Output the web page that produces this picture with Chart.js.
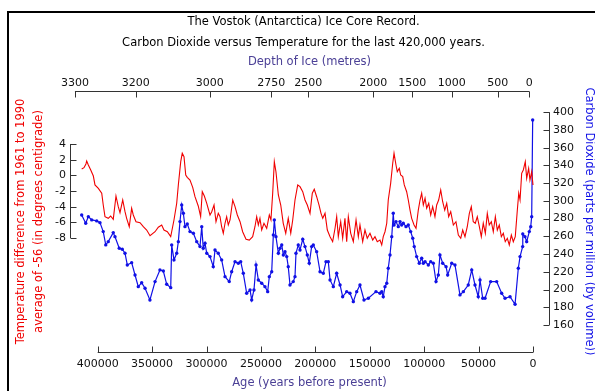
<!DOCTYPE html>
<html>
<head>
<meta charset="utf-8">
<title>Vostok Ice Core</title>
<script src="https://cdn.jsdelivr.net/npm/chart.js@4.4.1/dist/chart.umd.min.js"></script>
<style>
  html, body { margin: 0; padding: 0; background: #fff; }
  #wrap { position: relative; width: 595px; height: 391px; }
  #frame {
    position: absolute; left: 7px; top: 11px; width: 700px; height: 500px;
    border-left: 2px solid #000; border-top: 2px solid #000; pointer-events: none;
  }
</style>
</head>
<body>
<div id="wrap">
  <canvas id="vostokChart"></canvas>
  <div id="frame"></div>
</div>
<script>
// temperature record (years before present, deg C difference)
const tempAge = [414700,412600,410800,410100,408600,406400,404000,402500,399400,396300,
  394900,393300,390300,388100,385700,383200,381100,379500,377000,374900,
  373400,371000,368800,367300,364800,361100,358100,355000,351900,347300,
  344300,341200,339100,336000,332900,329900,327400,325900,323700,322300,
  320700,319100,317700,315200,312700,310600,307600,305400,303900,302000,
  299800,296800,295200,293100,291300,289200,287600,286100,284600,283000,
  281500,280000,278400,275900,273800,271700,269200,266800,263700,260700,
  257600,255500,253900,252400,250900,249300,247200,244700,242300,240800,
  239200,237700,236200,234000,231800,229500,227200,224900,222600,220800,
  218700,216200,214100,211600,209500,207400,204900,202800,201000,198800,
  196600,194800,193200,191100,189000,186500,184100,181900,180400,178900,
  176700,174900,172800,171200,169700,167500,165100,162600,160500,159000,
  156500,154400,152300,149800,147300,145200,143100,140600,139000,137600,
  136000,134400,133000,130800,128900,127700,125900,124700,122900,121600,
  119700,118300,116100,114600,113000,111500,109300,107500,105400,103800,
  102300,100800,99200,97700,95800,94000,92200,90100,88500,86700,
  84800,83000,81100,79300,77500,75600,73200,70800,68600,66400,
  64600,62500,60400,58500,56700,54900,53000,51200,49300,47500,
  45700,43800,42000,40200,38300,36500,34600,32800,31000,29100,
  27300,25500,23600,21800,19900,18100,16300,14400,13100,11900,
  10400,8900,7100,5800,4000,2800,1200,0];
const tempVal = [0.81,0.97,1.45,1.83,1.32,0.68,-0.09,-1.23,-1.66,-2.29,
  -3.79,-5.28,-5.49,-5.19,-5.61,-2.64,-4.0,-4.77,-3.15,-4.64,
  -5.49,-6.56,-4.21,-5.06,-5.92,-6.05,-6.56,-6.98,-7.71,-7.2,
  -6.63,-6.34,-6.98,-7.2,-7.83,-5.7,-3.57,-1.23,1.74,2.81,
  2.38,0.04,-0.25,-0.6,-1.53,-2.73,-3.91,-5.28,-2.09,-2.64,
  -3.57,-5.06,-4.64,-3.79,-5.92,-4.85,-5.28,-6.56,-7.4,-6.12,
  -5.28,-6.34,-5.7,-3.15,-4.0,-5.06,-5.92,-7.2,-8.17,-8.26,
  -7.83,-6.56,-5.28,-6.34,-5.49,-6.98,-6.12,-6.76,-5.06,-5.7,
  -2.29,1.74,0.46,-2.51,-3.79,-6.12,-7.4,-5.49,-7.4,-5.7,
  -3.15,-1.23,-1.45,-2.09,-3.15,-3.79,-4.85,-2.29,-1.78,-2.73,
  -3.79,-4.85,-5.49,-4.85,-6.98,-7.83,-8.47,-6.76,-5.28,-7.83,
  -5.92,-8.04,-5.49,-8.47,-5.28,-7.4,-8.47,-5.7,-7.83,-6.34,
  -8.47,-6.98,-8.04,-7.4,-8.26,-7.83,-8.47,-8.26,-8.89,-7.83,
  -7.2,-6.12,-3.15,-1.02,1.54,2.81,1.32,0.46,0.9,0.04,
  -0.17,-1.23,-2.09,-3.15,-4.43,-5.49,-6.34,-6.76,-4.43,-3.15,
  -2.29,-3.79,-2.93,-4.21,-3.57,-5.06,-4.0,-5.28,-3.79,-3.15,
  -1.87,-3.37,-4.43,-3.57,-5.28,-4.64,-6.34,-5.92,-7.62,-8.04,
  -6.98,-7.83,-6.56,-4.85,-4.0,-5.92,-6.12,-5.28,-6.56,-7.83,
  -6.12,-7.4,-4.85,-6.34,-5.92,-7.2,-5.28,-6.98,-6.34,-7.83,
  -7.4,-8.47,-8.04,-8.89,-7.62,-8.47,-7.83,-4.43,-2.29,-3.15,
  0.26,0.68,1.74,-0.38,0.9,-0.6,0.46,-1.23];

// carbon dioxide record (years before present, ppmv)
const co2Age = [414700,411000,408600,405500,400900,397900,394900,392600,390300,385700,
  384100,380200,377400,374900,372800,368800,365700,362700,359600,356500,
  352000,347300,342800,339700,336600,332900,332000,329900,327400,325900,
  324400,322800,321300,319800,317700,315200,312100,309000,306000,304400,
  303000,301400,299800,296800,293800,292200,289200,286100,283000,279100,
  276900,273800,270800,268600,266200,263100,260000,258500,256400,254500,
  252400,249300,246300,243800,242300,240100,238600,237700,236200,234000,
  232500,230900,229400,227900,226300,224900,223300,220300,218700,217800,
  215700,214100,211600,209500,207400,205600,203400,201900,198800,195700,
  192700,190200,188100,186500,183500,180400,177300,174900,171200,168200,
  165100,162000,159000,155300,151300,144300,140600,139000,137600,136000,
  134400,133000,131400,129800,128400,127700,125900,123800,122200,120700,
  119200,116700,114600,112400,110500,109100,106900,104500,102300,100800,
  99200,96200,94000,91600,89100,87000,85500,83000,79900,78400,
  74700,71700,67100,64000,59500,56300,53300,50300,48700,46200,
  44100,38900,33400,28800,25700,21100,16500,13500,11900,9500,
  9400,7400,5800,3400,2100,1200,300];
const co2Val = [284.1,274.8,282.2,278.5,277.4,275.4,265.3,250.3,254.0,264.2,
  259.6,246.5,245.4,240.9,227.7,230.3,216.4,203.2,207.7,201.4,
  188.2,208.9,222.1,220.9,205.9,202.1,250.3,233.4,240.9,254.0,
  276.6,295.4,286.0,270.9,274.0,265.3,263.5,254.0,248.4,270.9,
  246.5,252.2,240.9,237.1,225.8,244.6,240.9,233.4,214.5,208.9,
  220.1,231.4,229.6,231.4,218.3,195.8,199.5,188.2,199.5,227.7,
  210.8,207.1,203.2,197.6,214.5,220.1,261.6,278.5,259.6,240.9,
  246.5,250.3,239.0,242.7,237.1,225.8,205.1,208.9,214.5,240.9,
  250.3,244.6,256.7,248.4,239.0,229.6,248.4,250.3,242.7,220.1,
  218.3,231.4,231.4,210.8,203.2,218.3,205.1,191.9,197.6,195.8,
  186.3,197.6,205.1,188.2,190.1,197.6,195.8,197.6,191.9,203.2,
  207.1,224.0,239.0,259.6,286.0,272.8,276.6,270.9,276.6,272.8,
  274.8,270.9,272.8,265.3,257.8,248.4,237.1,229.6,235.3,229.6,
  231.4,227.7,231.4,229.6,208.9,216.4,239.0,229.6,225.8,216.4,
  229.6,227.7,193.9,197.6,205.1,222.1,205.1,191.9,210.8,190.1,
  190.1,208.9,208.9,195.8,190.1,191.9,183.4,224.0,237.1,248.4,
  262.7,259.6,254.0,265.3,270.9,282.2,391.3];

// axis ticks
const ageTicks = [400000,350000,300000,250000,200000,150000,100000,50000,0];
const depthLabels = [3300,3200,3000,2750,2500,2000,1500,1000,500,0];
const depthAges = [420900,365100,297100,240500,206500,146800,110900,74700,32400,3400];
const tempTicks = [-8,-6,-4,-2,0,2,4];
const co2Ticks = [160,180,200,220,240,260,280,300,320,340,360,380,400];

const FONT = "'DejaVu Sans', Verdana, sans-serif";
const AXIS_COLOR = "#333";
const TITLE_PURPLE = "#4b4096";
const TICK_LEN = 6;

Chart.defaults.font.family = FONT;
Chart.defaults.font.size = 11;
Chart.defaults.color = "#111";

// draw the short axis lines with inward ticks, only over the labelled ranges
const axisLines = {
  id: "axisLines",
  afterDraw(chart) {
    const { ctx, scales } = chart;
    const x = scales.x, xt = scales.xTop, yt = scales.yT, yc = scales.yC;
    ctx.save();
    ctx.strokeStyle = AXIS_COLOR;
    ctx.lineWidth = 1;
    ctx.beginPath();

    // bottom: age
    const yb = Math.round(x.top) + 0.5;
    ctx.moveTo(x.getPixelForValue(ageTicks[0]), yb);
    ctx.lineTo(x.getPixelForValue(ageTicks[ageTicks.length - 1]), yb);
    ageTicks.forEach(v => {
      const px = Math.round(x.getPixelForValue(v)) + 0.5;
      ctx.moveTo(px, yb); ctx.lineTo(px, yb - TICK_LEN);
    });

    // top: depth
    const ytop = Math.round(xt.bottom) + 0.5;
    ctx.moveTo(xt.getPixelForValue(depthAges[0]), ytop);
    ctx.lineTo(xt.getPixelForValue(depthAges[depthAges.length - 1]), ytop);
    depthAges.forEach(v => {
      const px = Math.round(xt.getPixelForValue(v)) + 0.5;
      ctx.moveTo(px, ytop); ctx.lineTo(px, ytop + TICK_LEN);
    });

    // left: temperature
    const xl = Math.round(yt.right) + 0.5;
    ctx.moveTo(xl, yt.getPixelForValue(tempTicks[0]));
    ctx.lineTo(xl, yt.getPixelForValue(tempTicks[tempTicks.length - 1]));
    tempTicks.forEach(v => {
      const py = Math.round(yt.getPixelForValue(v)) + 0.5;
      ctx.moveTo(xl, py); ctx.lineTo(xl + TICK_LEN, py);
    });

    // right: CO2
    const xr = Math.round(yc.left) + 0.5;
    ctx.moveTo(xr, yc.getPixelForValue(co2Ticks[0]));
    ctx.lineTo(xr, yc.getPixelForValue(co2Ticks[co2Ticks.length - 1]));
    co2Ticks.forEach(v => {
      const py = Math.round(yc.getPixelForValue(v)) + 0.5;
      ctx.moveTo(xr, py); ctx.lineTo(xr - TICK_LEN, py);
    });

    ctx.stroke();
    ctx.restore();
  }
};

function buildChart() {
  const ctx = document.getElementById("vostokChart").getContext("2d");

  const tempData = tempAge.map((a, i) => ({ x: a, y: tempVal[i] }));
  const co2Data = co2Age.map((a, i) => ({ x: a, y: co2Val[i] }));

  const noGrid = { display: false, drawTicks: false };

  window.vostokChart = new Chart(ctx, {
    type: "line",
    data: {
      datasets: [
        {
          label: "Temperature",
          data: tempData,
          yAxisID: "yT",
          borderColor: "#f00000",
          borderWidth: 1.1,
          pointRadius: 0,
          tension: 0,
          fill: false
        },
        {
          label: "Carbon Dioxide",
          data: co2Data,
          yAxisID: "yC",
          borderColor: "#1010e6",
          backgroundColor: "#1010e6",
          borderWidth: 1.2,
          pointRadius: 1.7,
          pointBorderWidth: 0,
          tension: 0,
          fill: false
        }
      ]
    },
    options: {
      responsive: true,
      maintainAspectRatio: false,
      animation: false,
      layout: { padding: { left: 12, right: 0, top: 0, bottom: 0 } },
      plugins: {
        legend: { display: false },
        tooltip: { enabled: false },
        title: {
          display: true,
          text: ["The Vostok (Antarctica) Ice Core Record.",
                 "Carbon Dioxide versus Temperature for the last 420,000 years."],
          color: "#000",
          font: { size: 11.5, weight: "normal", lineHeight: 1.78 },
          padding: { top: 12, bottom: 0 }
        }
      },
      scales: {
        x: {
          type: "linear",
          position: "bottom",
          reverse: true,
          min: -14700,
          max: 425450,
          grid: noGrid,
          border: { display: false },
          afterBuildTicks: s => { s.ticks = ageTicks.map(v => ({ value: v })); },
          afterFit: s => { s.height = 39; },
          ticks: {
            autoSkip: false, maxRotation: 0, padding: 6, color: "#111",
            callback: v => String(v)
          },
          title: {
            display: true, text: "Age (years before present)", color: TITLE_PURPLE,
            font: { size: 11.5 }, padding: { top: 0, bottom: 1 }
          }
        },
        xTop: {
          type: "linear",
          position: "top",
          reverse: true,
          min: -14700,
          max: 425450,
          grid: noGrid,
          border: { display: false },
          afterBuildTicks: s => { s.ticks = depthAges.map(v => ({ value: v })); },
          afterFit: s => { s.height = 38; },
          ticks: {
            autoSkip: false, maxRotation: 0, padding: 1, color: "#111",
            callback: (v, i) => String(depthLabels[i])
          },
          title: {
            display: true, text: "Depth of Ice (metres)", color: TITLE_PURPLE,
            font: { size: 11.5 }, padding: { top: 2, bottom: 0 }
          }
        },
        yT: {
          type: "linear",
          position: "left",
          min: -22.55,
          max: 10.77,
          grid: noGrid,
          border: { display: false },
          afterBuildTicks: s => { s.ticks = tempTicks.map(v => ({ value: v })); },
          afterFit: s => { s.width = 58; },
          ticks: { padding: 4, color: "#111", callback: v => String(v) },
          title: {
            display: true,
            text: ["Temperature difference from 1961 to 1990",
                   "average of -56 (in degrees centigrade)"],
            color: "#f00000",
            font: { size: 11.5, lineHeight: 1.57 },
            padding: { top: 0, bottom: 0 }
          }
        },
        yC: {
          type: "linear",
          position: "right",
          min: 129.5,
          max: 424.0,
          grid: noGrid,
          border: { display: false },
          afterBuildTicks: s => { s.ticks = co2Ticks.map(v => ({ value: v })); },
          afterFit: s => { s.width = 46; },
          ticks: { padding: 4, color: "#111", callback: v => String(v) },
          title: {
            display: true,
            text: "Carbon Dioxide (parts per million (by volume))",
            color: "#1010e6",
            font: { size: 11.5, lineHeight: 1.0 },
            padding: { top: 0, bottom: 0 }
          }
        }
      }
    },
    plugins: [axisLines]
  });
}

document.addEventListener("DOMContentLoaded", buildChart);
</script>
</body>
</html>
